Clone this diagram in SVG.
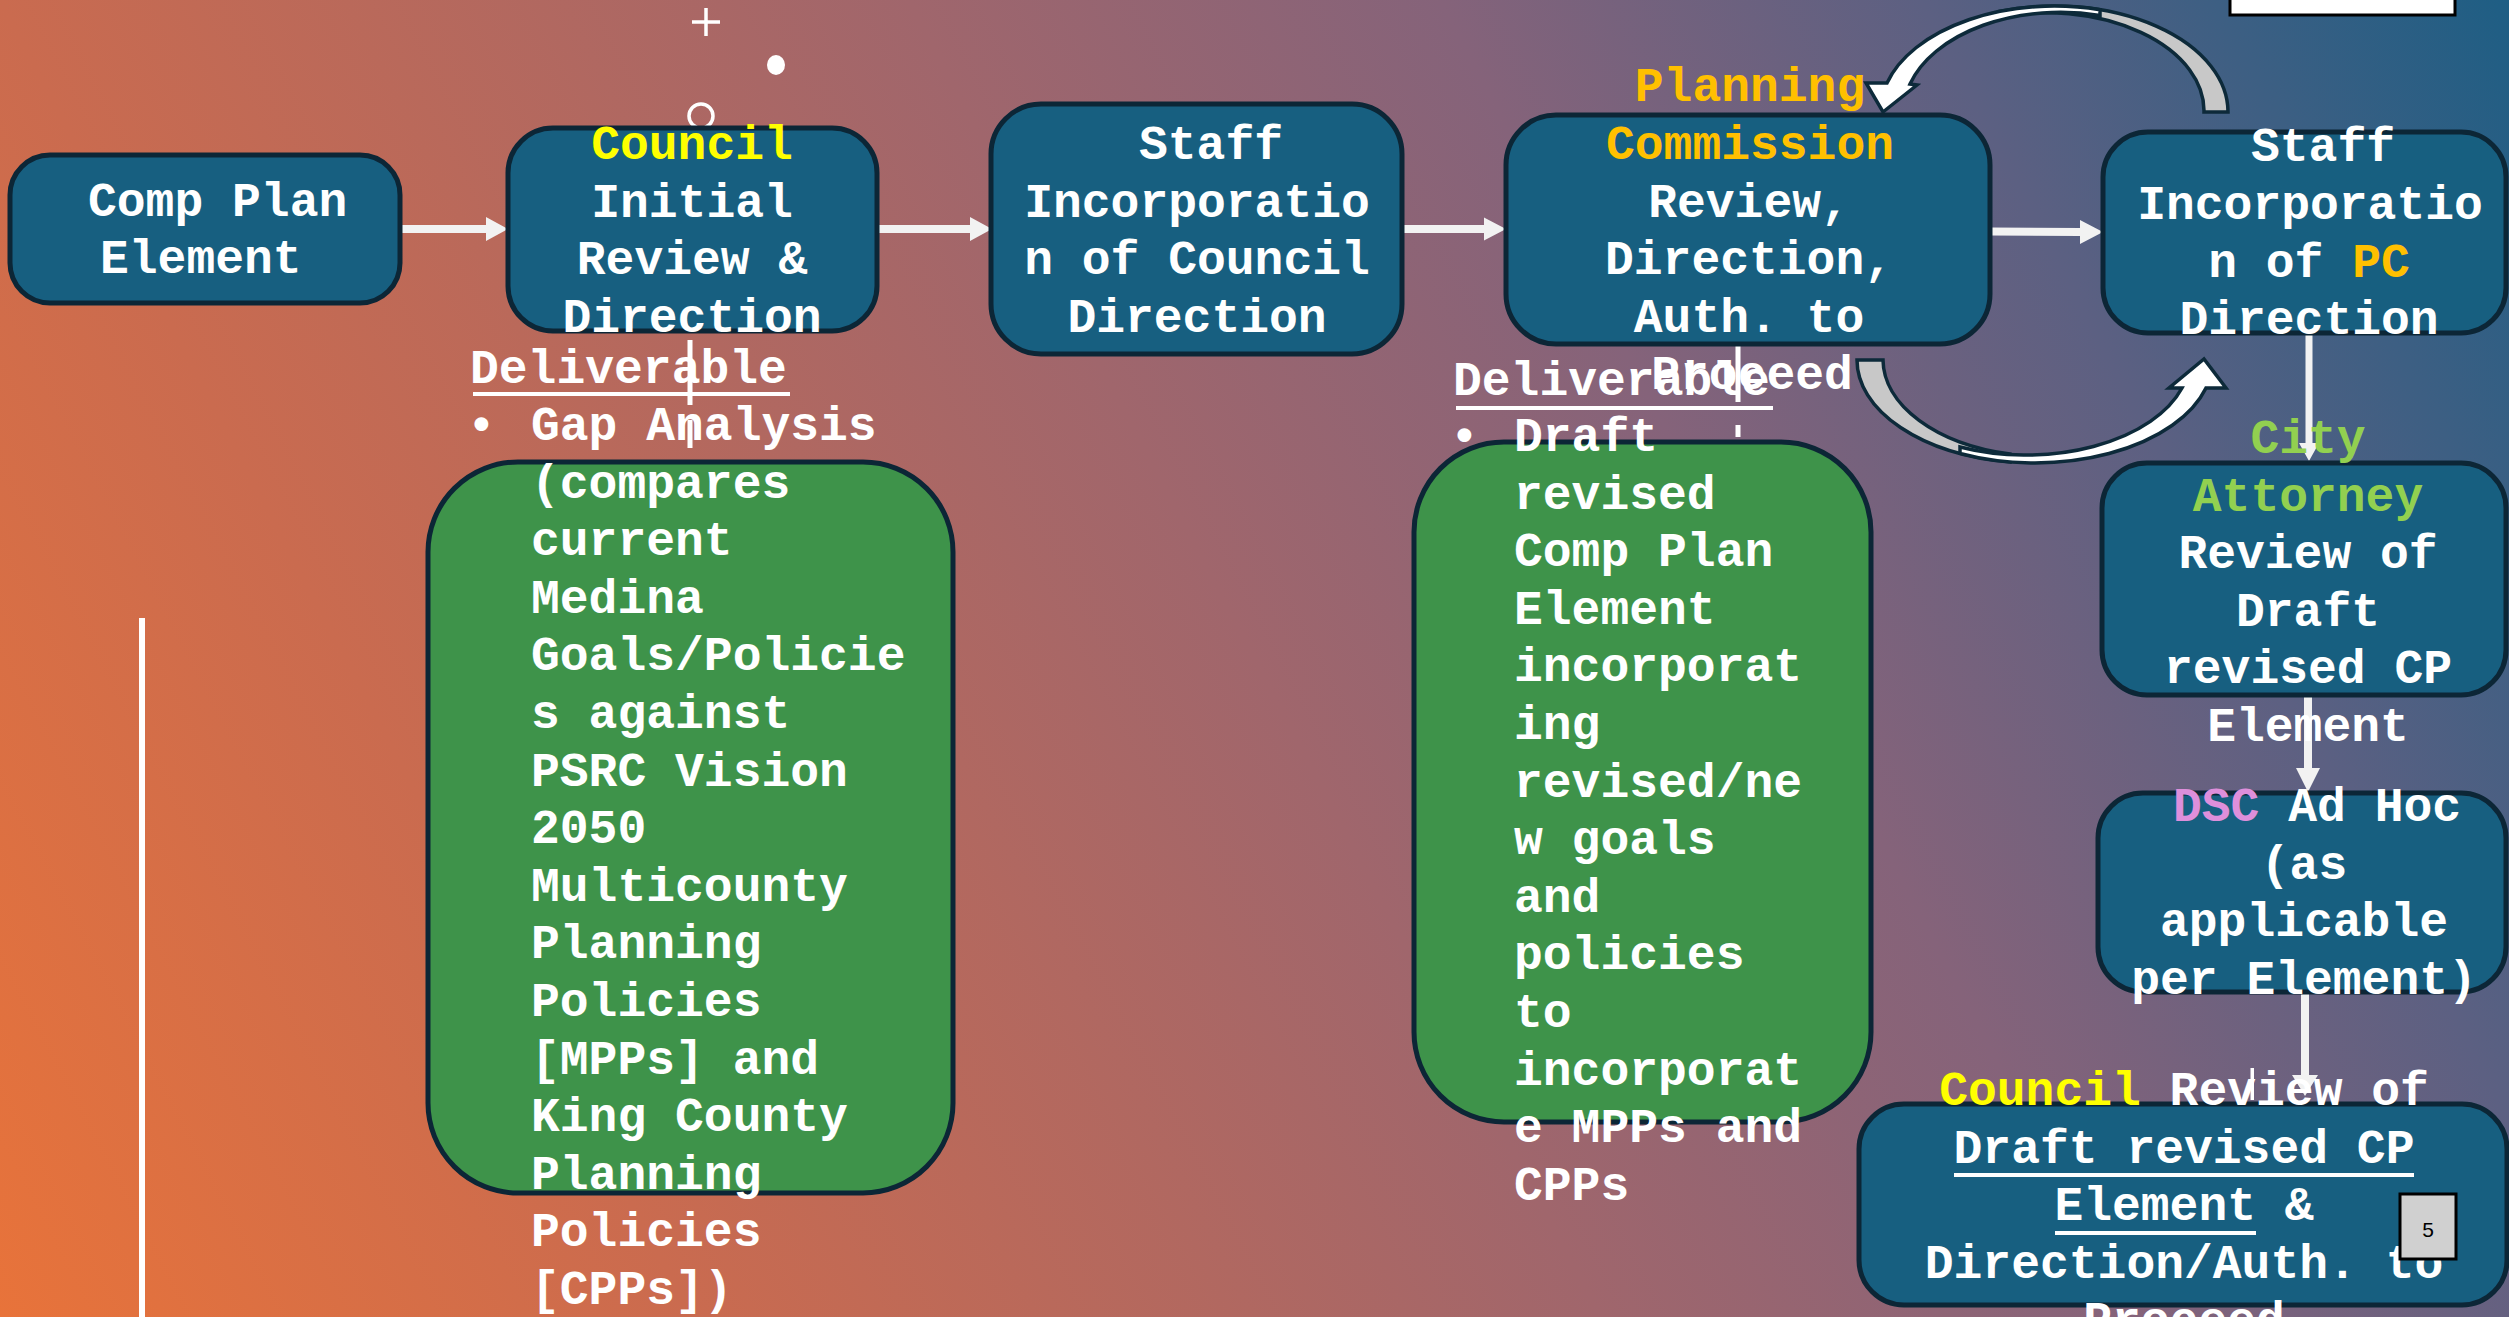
<svg xmlns="http://www.w3.org/2000/svg" width="2509" height="1317" viewBox="0 0 2509 1317">
<defs>
<linearGradient id="bg" gradientUnits="userSpaceOnUse" x1="0" y1="1317" x2="2509" y2="0">
<stop offset="0" stop-color="#E8733A"/>
<stop offset="0.216" stop-color="#CA6B4F"/>
<stop offset="0.5" stop-color="#A0666C"/>
<stop offset="0.666" stop-color="#85637A"/>
<stop offset="0.816" stop-color="#5C6082"/>
<stop offset="1" stop-color="#1E5E84"/>
</linearGradient>
<style>
.box{fill:#175F80;stroke:#0C2636;stroke-width:5}
.green{fill:#3E934A;stroke:#0C2636;stroke-width:5}
.t{font-family:"Liberation Mono","Courier New",monospace;font-weight:bold;font-size:48px;fill:#FFFFFF}
.m{text-anchor:middle}
.yel{fill:#FFFF00}
.org{fill:#FFC000}
.grn{fill:#92D050}
.pnk{fill:#DE8FDB}
.arr{fill:#F2F2F2}
.wl{fill:#FFFFFF}
.band{stroke:#0D2A3A;stroke-width:3.5;stroke-linejoin:miter}
</style>
</defs>
<rect x="0" y="0" width="2509" height="1317" fill="url(#bg)"/>
<rect class="wl" x="139" y="618" width="6" height="700"/>
<g id="decor" stroke="#FFFFFF" stroke-width="3.5" fill="none">
<line x1="706" y1="8" x2="706" y2="36"/>
<line x1="692" y1="22" x2="720" y2="22"/>
<ellipse cx="776" cy="65" rx="9" ry="10" fill="#FFFFFF" stroke="none"/>
<ellipse cx="701" cy="116" rx="12" ry="12"/>
</g>
<rect x="2230" y="-10" width="225" height="25" fill="#FFFFFF" stroke="#000000" stroke-width="3"/>

<g id="connectors">
<polygon class="arr" points="400,225 486,225 486,217 508,229 486,241 486,233 400,233"/>
<polygon class="arr" points="878,225 970,225 970,217 992,229 970,241 970,233 878,233"/>
<polygon class="arr" points="1402,225 1484,225 1484,217.5 1506,229 1484,240.5 1484,233 1402,233"/>
<polygon class="arr" points="1990,227.5 2080,228 2080,220 2103,232 2080,244 2080,236 1990,235.5"/>
<polygon class="arr" points="2305.5,333 2312.5,333 2312.5,443 2319,443 2309,461 2299,443 2305.5,443"/>
<polygon class="arr" points="2304,695 2312,695 2312,768 2320,768 2308,792 2296,768 2304,768"/>
<polygon class="arr" points="2301,992 2309,992 2309,1075 2318,1075 2305,1096 2292,1075 2301,1075"/>
<rect class="wl" x="687.5" y="340" width="5" height="65"/>
<rect class="wl" x="687.5" y="420" width="5" height="28"/>
<rect class="wl" x="1735.5" y="340" width="5" height="62"/>
<rect class="wl" x="1735.5" y="425" width="5" height="12"/>
<rect class="wl" x="2250.5" y="1068" width="3.5" height="32"/>
<path class="band" fill="#C8C8C8" d="M 2228,112 A 174,106 0 0,0 2000,11.2 L 2000,17 A 158,98 0 0,1 2204,112 Z"/>
<path class="band" fill="#FFFFFF" d="M 2100,15.5 L 2100,9.8 A 174,106 0 0,0 1887,83 L 1866,83 L 1883,112 L 1917,85 L 1910,84 A 157,100 0 0,1 2100,15.5 Z"/>
<path class="band" fill="#C8C8C8" d="M 1857,360 A 178,103 0 0,0 2010,462 L 2010,454 A 162,97 0 0,1 1883,360 Z"/>
<path class="band" fill="#FFFFFF" d="M 1960,447 L 1960,453.4 A 178,103 0 0,0 2206,388 L 2226,388 L 2204,359 L 2169,388 L 2182,388 A 164,96 0 0,1 1960,447 Z"/>
</g>

<g id="node1">
<rect class="box" x="10" y="155" width="390" height="148" rx="40"/>
<text class="t" x="88" y="216">Comp Plan</text>
<text class="t" x="100" y="273">Element</text>
</g>

<g id="node2">
<rect class="box" x="508" y="128" width="369" height="203" rx="45"/>
<text class="t m yel" x="692" y="159">Council</text>
<text class="t m" x="692" y="216.6">Initial</text>
<text class="t m" x="692" y="274.2">Review &amp;</text>
<text class="t m" x="692" y="331.8">Direction</text>
</g>

<g id="node3">
<rect class="box" x="991" y="104" width="411" height="250" rx="50"/>
<text class="t m" x="1211" y="159">Staff</text>
<text class="t m" x="1197" y="216.6">Incorporatio</text>
<text class="t m" x="1197" y="274.2">n of Council</text>
<text class="t m" x="1197" y="331.8">Direction</text>
</g>

<g id="node4">
<rect class="box" x="1506" y="115" width="484" height="229" rx="50"/>
<text class="t m org" x="1750" y="101">Planning</text>
<text class="t m org" x="1750" y="159">Commission</text>
<text class="t m" x="1749" y="216.6">Review,</text>
<text class="t m" x="1749" y="274.2">Direction,</text>
<text class="t m" x="1749" y="331.8">Auth. to</text>
<text class="t m" x="1752" y="389.4">Proceed</text>
</g>

<g id="node5">
<rect class="box" x="2103" y="132" width="403" height="201" rx="45"/>
<text class="t m" x="2323" y="161">Staff</text>
<text class="t m" x="2310" y="219">Incorporatio</text>
<text class="t m" x="2309" y="276.6">n of <tspan class="org">PC</tspan></text>
<text class="t m" x="2309" y="334.2">Direction</text>
</g>

<g id="node6">
<rect class="box" x="2102" y="463" width="404" height="232" rx="45"/>
<text class="t m grn" x="2308" y="453">City</text>
<text class="t m grn" x="2308" y="510.5">Attorney</text>
<text class="t m" x="2308" y="568">Review of</text>
<text class="t m" x="2308" y="625.5">Draft</text>
<text class="t m" x="2308" y="683">revised CP</text>
<text class="t m" x="2308" y="740.5">Element</text>
</g>

<g id="node7">
<rect class="box" x="2098" y="793" width="408" height="199" rx="45"/>
<text class="t" x="2173" y="821"><tspan class="pnk">DSC</tspan> Ad Hoc</text>
<text class="t m" x="2304" y="878.6">(as</text>
<text class="t m" x="2304" y="936.2">applicable</text>
<text class="t m" x="2304" y="993.8">per Element)</text>
</g>

<g id="node8">
<rect class="box" x="1859" y="1104" width="648" height="201" rx="45"/>
<text class="t m" x="2184" y="1105"><tspan class="yel">Council</tspan> Review of</text>
<text class="t m" x="2184" y="1162.6">Draft revised CP</text>
<rect class="wl" x="1954" y="1173" width="460" height="4"/>
<text class="t m" x="2184" y="1220.2">Element &amp;</text>
<rect class="wl" x="2055" y="1231" width="201" height="4"/>
<text class="t m" x="2184" y="1277.8">Direction/Auth. to</text>
<text class="t m" x="2184" y="1335.4">Proceed</text>
</g>

<g id="pagenum">
<rect x="2400" y="1194" width="56" height="65" fill="#D0D0D0" stroke="#000000" stroke-width="3"/>
<text x="2428" y="1237" text-anchor="middle" font-family="Liberation Sans, Arial, sans-serif" font-size="21" fill="#000000">5</text>
</g>

<g id="deliverable1">
<rect class="green" x="428" y="462" width="525" height="731" rx="90"/>
<text class="t" x="470" y="383">Deliverable</text>
<rect class="wl" x="473" y="392" width="317" height="4"/>
<text class="t" x="467" y="440">•</text>
<text class="t" x="531" y="440">Gap Analysis</text>
<text class="t" x="531" y="497.6">(compares</text>
<text class="t" x="531" y="555.2">current</text>
<text class="t" x="531" y="612.8">Medina</text>
<text class="t" x="531" y="670.4">Goals/Policie</text>
<text class="t" x="531" y="728">s against</text>
<text class="t" x="531" y="785.6">PSRC Vision</text>
<text class="t" x="531" y="843.2">2050</text>
<text class="t" x="531" y="900.8">Multicounty</text>
<text class="t" x="531" y="958.4">Planning</text>
<text class="t" x="531" y="1016">Policies</text>
<text class="t" x="531" y="1073.6">[MPPs] and</text>
<text class="t" x="531" y="1131.2">King County</text>
<text class="t" x="531" y="1188.8">Planning</text>
<text class="t" x="531" y="1246.4">Policies</text>
<text class="t" x="531" y="1304">[CPPs])</text>
</g>

<g id="deliverable2">
<rect class="green" x="1414" y="442" width="457" height="680" rx="90"/>
<text class="t" x="1453" y="395">Deliverable</text>
<rect class="wl" x="1456" y="406" width="317" height="4"/>
<text class="t" x="1450" y="451">•</text>
<text class="t" x="1514" y="451">Draft</text>
<text class="t" x="1514" y="508.6">revised</text>
<text class="t" x="1514" y="566.2">Comp Plan</text>
<text class="t" x="1514" y="623.8">Element</text>
<text class="t" x="1514" y="681.4">incorporat</text>
<text class="t" x="1514" y="739">ing</text>
<text class="t" x="1514" y="796.6">revised/ne</text>
<text class="t" x="1514" y="854.2">w goals</text>
<text class="t" x="1514" y="911.8">and</text>
<text class="t" x="1514" y="969.4">policies</text>
<text class="t" x="1514" y="1027">to</text>
<text class="t" x="1514" y="1084.6">incorporat</text>
<text class="t" x="1514" y="1142.2">e MPPs and</text>
<text class="t" x="1514" y="1199.8">CPPs</text>
</g>
</svg>
